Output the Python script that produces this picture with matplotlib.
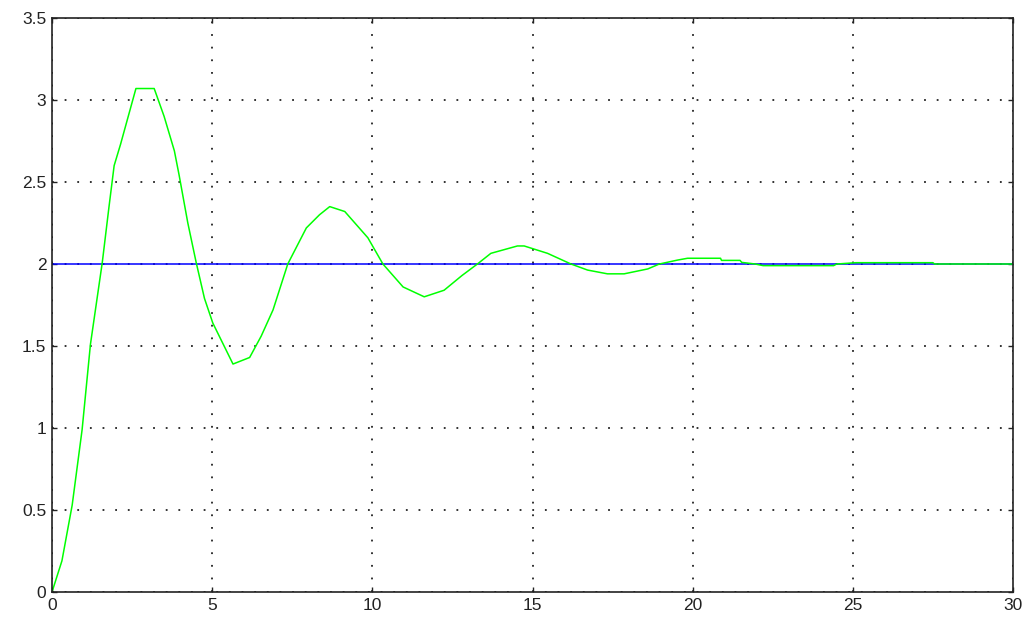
import numpy as np
import matplotlib
matplotlib.use("Agg")
import matplotlib.pyplot as plt

# step response
t = [0, 0.31, 0.63, 0.94, 1.2, 1.57, 1.78, 1.94, 2.14, 2.62, 3.19, 3.5, 3.82, 3.97,
     4.24, 4.5, 4.76, 5.02, 5.65, 6.17, 6.53, 6.9, 7.36, 7.94, 8.35, 8.67, 9.14, 9.5,
     9.86, 10.33, 10.96, 11.62, 12.24, 12.8, 13.28, 13.7, 14.53, 14.74, 15.47, 16.2,
     16.72, 17.34, 17.86, 18.6, 18.96, 19.53, 19.84, 20.87, 20.9, 21.48, 21.53, 21.95,
     22.2, 24.4, 24.5, 25.1, 27.5, 27.55, 30]
y = [0, 0.19, 0.53, 0.99, 1.51, 2.01, 2.35, 2.6, 2.73, 3.07, 3.07, 2.9, 2.69, 2.54,
     2.25, 2.01, 1.79, 1.64, 1.39, 1.43, 1.56, 1.72, 2.0, 2.22, 2.3, 2.35, 2.32, 2.24,
     2.16, 2.0, 1.86, 1.8, 1.84, 1.93, 2.0, 2.065, 2.11, 2.11, 2.065, 2.0,
     1.963, 1.94, 1.94, 1.97, 2.0, 2.024, 2.035, 2.035, 2.022, 2.022, 2.01, 2.0,
     1.99, 1.99, 2.0, 2.008, 2.008, 2.0, 2.0]
setpoint = 2.0

plt.rcParams['font.family'] = ['Liberation Sans', 'DejaVu Sans']

fig = plt.figure(figsize=(10.33, 6.26), dpi=100)
ax = fig.add_axes([52 / 1033, 1 - 592 / 626, 961 / 1033, 574 / 626])

ax.axhline(setpoint, color='#0000ff', lw=1.1)
ax.plot(t, y, color='#00ff00', lw=1.1)

ax.set_xlim(0, 30)
ax.set_ylim(0, 3.5)
ax.set_xticks(np.arange(0, 31, 5))
ax.set_yticks(np.arange(0, 3.51, 0.5))
ax.set_yticklabels(['0', '0.5', '1', '1.5', '2', '2.5', '3', '3.5'])
ax.grid(True, color='#222222', linestyle=(0, (1, 6)), lw=1.3)
ax.tick_params(direction='in', length=3.5, width=1.0, labelsize=12.5,
               top=True, right=True, colors='#222222', pad=4)
for s in ax.spines.values():
    s.set_color('#222222')
    s.set_linewidth(1.2)

fig.savefig('out.png', dpi=100)
